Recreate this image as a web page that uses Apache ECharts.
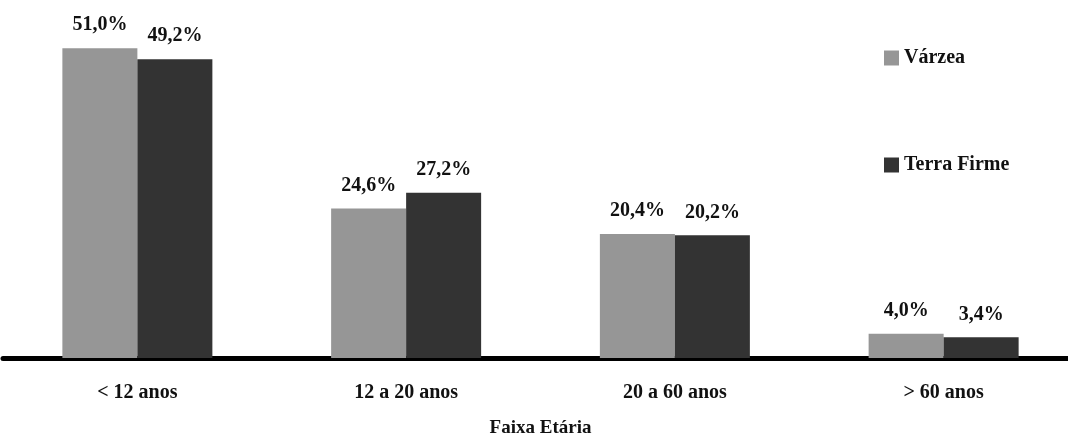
<!DOCTYPE html>
<html>
<head>
<meta charset="utf-8">
<script src="https://cdn.jsdelivr.net/npm/echarts@6/dist/echarts.min.js"></script>
<style>
html,body{margin:0;padding:0;background:#fff;}
#chart{width:1068px;height:435px;}
</style>
</head>
<body>
<div id="chart"></div>
<script>
const categories = ['< 12 anos', '12 a 20 anos', '20 a 60 anos', '> 60 anos'];
const varzea = [51.0, 24.6, 20.4, 4.0];
const terraFirme = [49.2, 27.2, 20.2, 3.4];
const seriesNames = ['Várzea', 'Terra Firme'];
const axisName = 'Faixa Etária';

const FONT = '"Liberation Serif", "DejaVu Serif", serif';
const fmt = p => p.value.toFixed(1).replace('.', ',') + '%';

const chart = echarts.init(document.getElementById('chart'));
const labelStyle = {
  show: true, position: 'top', distance: 13,
  fontFamily: FONT, fontWeight: 'bold', fontSize: 20, color: '#111',
  formatter: fmt
};
chart.setOption({
  animation: false,
  backgroundColor: '#fff',
  grid: { left: 3, top: 24, width: 1075, height: 334, outerBoundsMode: 'none', containLabel: false },
  legend: {
    orient: 'vertical', left: 884, top: 48, padding: 0,
    itemWidth: 15, itemHeight: 15, itemGap: 87,
    icon: 'rect',
    textStyle: { fontFamily: FONT, fontWeight: 'bold', fontSize: 20, color: '#111' },
    data: seriesNames
  },
  xAxis: {
    type: 'category', data: categories,
    name: axisName, nameLocation: 'middle', nameGap: 61,
    nameTextStyle: { fontFamily: FONT, fontWeight: 'bold', fontSize: 19, color: '#111' },
    axisLine: { lineStyle: { color: '#000', width: 5 } },
    axisTick: { show: false },
    axisLabel: { margin: 25, fontFamily: FONT, fontWeight: 'bold', fontSize: 20, color: '#111' }
  },
  yAxis: {
    type: 'value', min: 0, max: 55, show: false,
    splitLine: { show: false }
  },
  series: [
    { name: seriesNames[0], type: 'bar', data: varzea, barWidth: 75, barGap: '0%',
      itemStyle: { color: '#969696' }, label: labelStyle },
    { name: seriesNames[1], type: 'bar', data: terraFirme, barWidth: 75, barGap: '0%',
      itemStyle: { color: '#333333' }, label: labelStyle }
  ]
});
</script>
</body>
</html>
